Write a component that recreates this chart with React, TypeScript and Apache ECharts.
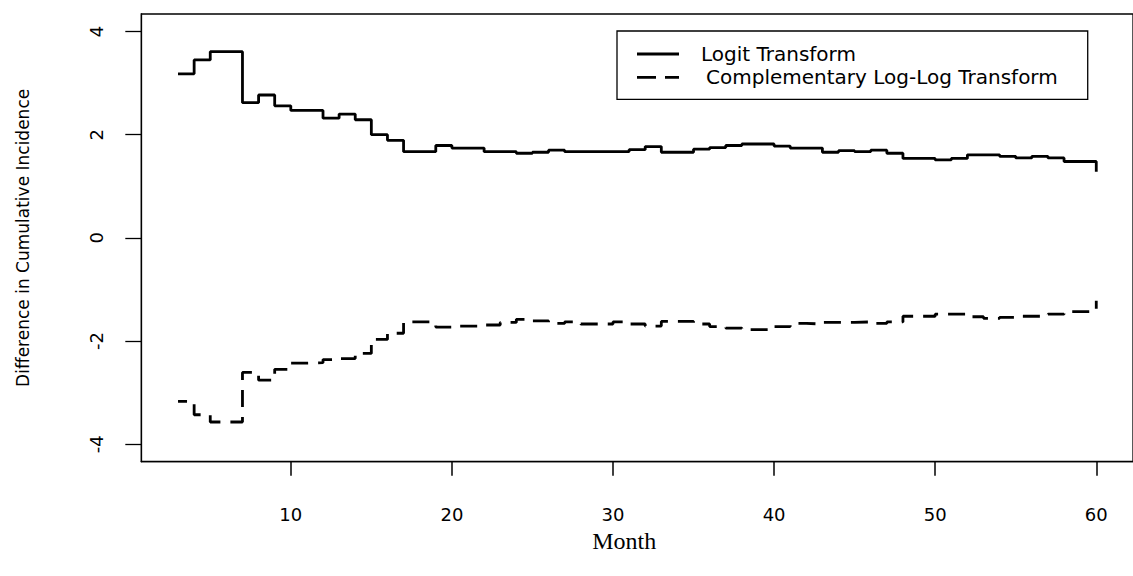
import React, { useEffect, useRef } from "react";
import * as echarts from "echarts";

const months = [
  3, 4, 5, 6, 7, 8, 9, 10, 11, 12, 13, 14, 15, 16, 17, 18, 19, 20, 21, 22,
  23, 24, 25, 26, 27, 28, 29, 30, 31, 32, 33, 34, 35, 36, 37, 38, 39, 40, 41,
  42, 43, 44, 45, 46, 47, 48, 49, 50, 51, 52, 53, 54, 55, 56, 57, 58, 59, 60,
];

const logitValues = [
  3.18, 3.45, 3.61, 3.61, 2.62, 2.77, 2.56, 2.47, 2.47, 2.32, 2.4, 2.29, 2.0,
  1.89, 1.67, 1.67, 1.79, 1.74, 1.74, 1.67, 1.67, 1.64, 1.66, 1.7, 1.67, 1.67,
  1.67, 1.67, 1.71, 1.77, 1.66, 1.66, 1.72, 1.75, 1.79, 1.82, 1.82, 1.78, 1.74,
  1.74, 1.66, 1.69, 1.67, 1.7, 1.64, 1.54, 1.54, 1.51, 1.54, 1.61, 1.61, 1.58,
  1.55, 1.58, 1.55, 1.48, 1.48, 1.28,
];

const cloglogValues = [
  -3.17, -3.43, -3.57, -3.57, -2.61, -2.76, -2.55, -2.43, -2.42, -2.36, -2.34,
  -2.24, -1.97, -1.85, -1.63, -1.63, -1.73, -1.71, -1.71, -1.69, -1.64, -1.58,
  -1.61, -1.66, -1.63, -1.67, -1.67, -1.63, -1.67, -1.71, -1.62, -1.62, -1.67,
  -1.72, -1.75, -1.78, -1.78, -1.72, -1.66, -1.67, -1.64, -1.64, -1.63, -1.66,
  -1.63, -1.52, -1.52, -1.48, -1.48, -1.53, -1.56, -1.54, -1.52, -1.52, -1.48,
  -1.43, -1.43, -1.22,
];

const xTicks = [10, 20, 30, 40, 50, 60];
const yTicks = [-4, -2, 0, 2, 4];

const seriesNames = ["Logit Transform", "Complementary Log-Log Transform"];
const xTitle = "Month";
const yTitle = "Difference in Cumulative Incidence";

export default function App() {
  const ref = useRef<HTMLDivElement>(null);

  useEffect(() => {
    if (!ref.current) return;
    const chart = echarts.init(ref.current, undefined, { renderer: "svg" });
    const sans = "DejaVu Sans";
    chart.setOption({
      animation: false,
      backgroundColor: "#ffffff",
      grid: {
        left: 141.3,
        top: 14,
        width: 1001.7,
        height: 447.7,
        show: true,
        borderColor: "#000000",
        borderWidth: 1.3,
        backgroundColor: "transparent",
        containLabel: false,
      },
      legend: {
        orient: "vertical",
        left: 617,
        top: 31,
        padding: [13, 30, 12, 20],
        itemWidth: 42,
        itemHeight: 2.8,
        itemGap: 3.4,
        borderColor: "#000000",
        borderWidth: 1.3,
        itemStyle: { color: "#000000", borderWidth: 0 },
        lineStyle: { width: 0 },
        textStyle: {
          fontFamily: sans,
          fontSize: 20,
          lineHeight: 20,
          color: "#000000",
        },
        data: [
          {
            name: seriesNames[0],
            icon: "path://M0,0h42v2.8h-42z",
            textStyle: { padding: [0, 0, 0, 17] },
          },
          {
            name: seriesNames[1],
            icon: "path://M0,0h19v2.8h-19z M28,0h14v2.8h-14z",
            textStyle: { padding: [0, 0, 0, 22] },
          },
        ],
      },
      xAxis: {
        type: "value",
        min: 0.72,
        max: 62.28,
        name: xTitle,
        nameLocation: "middle",
        nameGap: 60,
        nameTextStyle: {
          fontFamily: "Liberation Serif",
          fontSize: 24,
          color: "#000000",
          padding: [0, 26, 0, 0],
        },
        axisLine: {
          show: true,
          onZero: false,
          lineStyle: { color: "#000000", width: 1.3 },
        },
        axisTick: {
          show: true,
          length: 14,
          lineStyle: { color: "#000000", width: 1.5 },
          customValues: xTicks,
        },
        axisLabel: {
          show: true,
          margin: 44,
          fontFamily: sans,
          fontSize: 18,
          color: "#000000",
          customValues: xTicks,
        },
        splitLine: { show: false },
      },
      yAxis: {
        type: "value",
        min: -4.34,
        max: 4.34,
        name: yTitle,
        nameLocation: "middle",
        nameGap: 110,
        nameTextStyle: {
          fontFamily: sans,
          fontSize: 17,
          color: "#000000",
        },
        axisLine: {
          show: true,
          onZero: false,
          lineStyle: { color: "#000000", width: 1.3 },
        },
        axisTick: {
          show: true,
          length: 16,
          lineStyle: { color: "#000000", width: 1.3 },
          customValues: yTicks,
        },
        axisLabel: {
          show: true,
          rotate: 90,
          margin: 36,
          fontFamily: sans,
          fontSize: 18,
          color: "#000000",
          customValues: yTicks,
        },
        splitLine: { show: false },
      },
      series: [
        {
          name: seriesNames[0],
          type: "line",
          step: "end",
          symbol: "none",
          showSymbol: false,
          lineStyle: { color: "#000000", width: 2.8, type: "solid" },
          itemStyle: { color: "#000000" },
          data: months.map((m, i) => [m, logitValues[i]]),
        },
        {
          name: seriesNames[1],
          type: "line",
          step: "end",
          symbol: "none",
          showSymbol: false,
          lineStyle: {
            color: "#000000",
            width: 2.8,
            type: [17, 10],
            dashOffset: 8,
          },
          itemStyle: { color: "#000000" },
          data: months.map((m, i) => [m, cloglogValues[i]]),
        },
      ],
    });
    return () => chart.dispose();
  }, []);

  return (
    <div
      ref={ref}
      style={{ position: "absolute", left: 0, top: 0, width: 1133, height: 576 }}
    />
  );
}
